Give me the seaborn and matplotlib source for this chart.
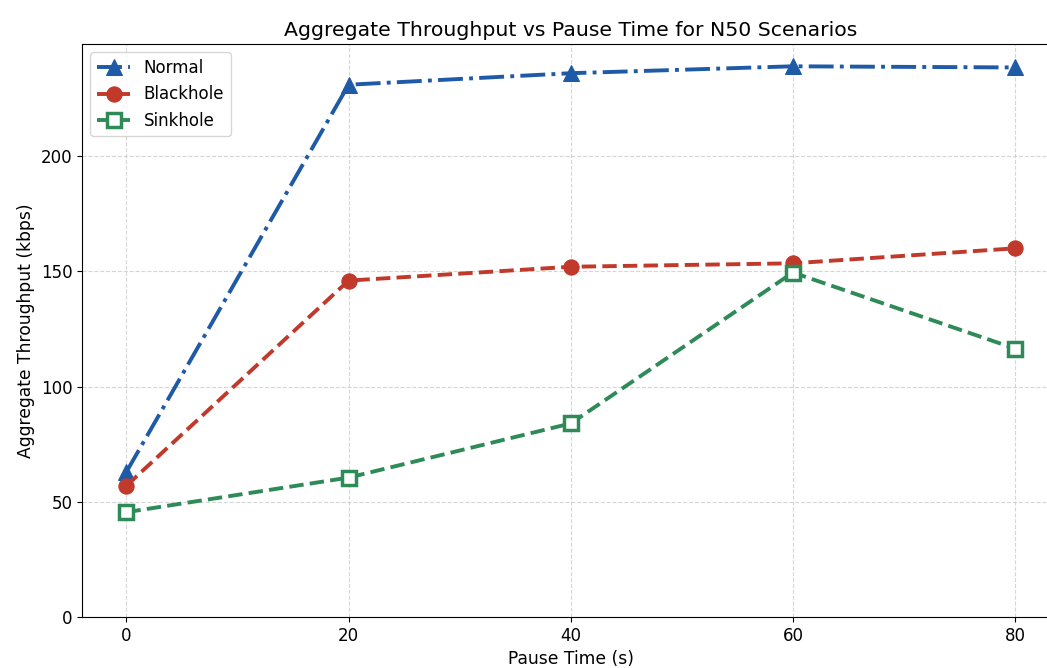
import pandas as pd
import seaborn as sns
import matplotlib.pyplot as plt

# Values
pause_times = [0, 20, 40, 60, 80]
normal = [63, 231, 236, 239, 238.5]
blackhole = [57, 146, 152, 153.5, 160]
sinkhole = [45.5, 60.5, 84, 149.5, 116.5]

df = pd.DataFrame({'Pause Time': pause_times, 'Normal': normal,
                   'Blackhole': blackhole, 'Sinkhole': sinkhole})

plt.rcParams['font.family'] = 'sans-serif'
plt.rcParams['font.sans-serif'] = ['DejaVu Sans']

fig = plt.figure(figsize=(10.47, 6.68), dpi=100)
# the reference is cropped on the right, so the axes run past the edge
ax = fig.add_axes([82 / 1047, 51 / 668, (1059.5 - 82) / 1047, (617 - 44) / 668])

sns.lineplot(ax=ax, data=df, x='Pause Time', y='Normal', label='Normal',
             color='#1f5aa6', marker='^', markersize=12, linewidth=2.8,
             linestyle='-.', markeredgecolor='#1f5aa6')
sns.lineplot(ax=ax, data=df, x='Pause Time', y='Blackhole', label='Blackhole',
             color='#c0392b', marker='o', markersize=11, linewidth=2.8,
             linestyle='--', markeredgecolor='#c0392b')
sns.lineplot(ax=ax, data=df, x='Pause Time', y='Sinkhole', label='Sinkhole',
             color='#2e8b57', marker='s', markersize=10, linewidth=2.8,
             linestyle='--', markerfacecolor='white', markeredgecolor='#2e8b57',
             markeredgewidth=2.5)

ax.set_ylim(bottom=0)
ax.set_xticks(pause_times)
ax.tick_params(labelsize=12)
ax.grid(True, linestyle='--', color='#cccccc', alpha=0.8)
ax.set_title('Aggregate Throughput vs Pause Time for N50 Scenarios', fontsize=14.7)
ax.set_xlabel('Pause Time (s)', fontsize=12.3)
ax.set_ylabel('Aggregate Throughput (kbps)', fontsize=12.3)
ax.legend(loc='upper left', fontsize=12)

plt.savefig('out.png', dpi=100)
